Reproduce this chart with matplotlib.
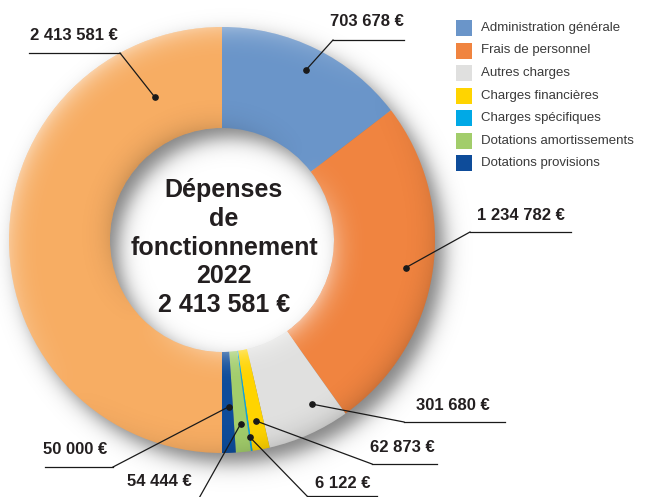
import numpy as np
import matplotlib
matplotlib.use("Agg")
import matplotlib.pyplot as plt

plt.rcParams["font.family"] = ["Liberation Sans", "DejaVu Sans"]

# data
categories = ["Administration générale", "Frais de personnel", "Autres charges",
              "Charges financières", "Charges spécifiques",
              "Dotations amortissements", "Dotations provisions"]
amounts = [703678, 1234782, 301680, 62873, 6122, 54444, 50000]
total = 2413581
year = 2022
title = "Dépenses\nde\nfonctionnement"

colors = ["#6a95c9", "#f08440", "#e0e0df", "#ffd400", "#00a9e6", "#a2cd6b", "#0e4c9a"]
totalColor = "#f7ad63"
textColor = "#231f20"

# label layout in pixels (y from top): text left, text y, underline x0, x1, y,
# elbow side, position of the dot inside its wedge (fraction, radius)
textX = [330, 477, 416, 370, 315, 127, 43, 30]
textY = [22, 215, 405, 447, 483, 482, 450, 35]
lineX0 = [333, 470, 404, 372, 307, 130, 45, 29]
lineX1 = [404, 571, 505, 437, 377, 198, 113, 120]
lineY = [40, 232, 422, 464, 496, 500, 467, 53]
elbowLeft = [True, True, True, True, True, False, False, False]
dotFrac = [0.5, 0.5, 0.7, 0.5, 0.5, 0.5, 0.6, 0.14]
dotRadius = [189, 186, 187, 184, 199, 185, 167, 158]


def euro(v):
    return "{:,}".format(v).replace(",", " ") + " €"


W, H = 646, 497
cx, cy = 222, H - 240
rOut, rIn = 213, 112

fig = plt.figure(figsize=(6.46, 4.97), dpi=100)
ax = fig.add_axes([0, 0, 1, 1])
ax.set_xlim(0, W)
ax.set_ylim(0, H)

# pixel grid for shadow / shading overlays
xs = np.arange(W) + 0.5
ys = np.arange(H) + 0.5
X, Y = np.meshgrid(xs, ys)

# soft drop shadow of the ring, offset to the lower right
sdx, sdy = 9, -10
rs = np.hypot(X - cx - sdx, Y - cy - sdy)
d = np.maximum(rs - rOut, rIn - rs)
shadowA = 0.5 / (1 + np.exp(d / 6.0))
shadow = np.zeros((H, W, 4))
shadow[..., 3] = shadowA
ax.imshow(shadow, extent=(0, W, 0, H), origin="lower", zorder=1, interpolation="bilinear")

wedges, _ = ax.pie(amounts + [total], colors=colors + [totalColor], startangle=90,
                   counterclock=False, radius=rOut, center=(cx, cy), frame=True,
                   wedgeprops=dict(width=rOut - rIn, linewidth=0, zorder=2))

# tube-like shading, light from upper left
r = np.hypot(X - cx, Y - cy)
phi = np.arctan2(Y - cy, X - cx)
u = np.clip((r - (rOut + rIn) / 2) / ((rOut - rIn) / 2), -1, 1)
ue = np.sign(u) * np.abs(u) ** 4
light = ue * (np.cos(phi) * -0.7071 + np.sin(phi) * 0.7071)
mask = np.clip(np.minimum(rOut - r, r - rIn) + 0.5, 0, 1)
shade = np.zeros((H, W, 4))
hi = np.clip(light, 0, 1)
lo = np.clip(-light, 0, 1)
shade[..., :3] = np.where(light[..., None] > 0, 1.0, 0.0)
shade[..., 3] = mask * (0.45 * hi + 0.14 * lo)
ax.imshow(shade, extent=(0, W, 0, H), origin="lower", zorder=3, interpolation="bilinear")

ax.set_xlim(0, W)
ax.set_ylim(0, H)
ax.set_aspect("equal")
ax.axis("off")

# value labels with leader lines
labelValues = amounts + [total]
for i, w in enumerate(wedges):
    ang = np.radians(w.theta1 + dotFrac[i] * (w.theta2 - w.theta1))
    px = cx + dotRadius[i] * np.cos(ang)
    py = cy + dotRadius[i] * np.sin(ang)
    ex = lineX0[i] if elbowLeft[i] else lineX1[i]
    ax.plot([px, ex], [py, H - lineY[i]], color="#1a1a1a", lw=0.9, zorder=5, clip_on=False)
    ax.plot([lineX0[i], lineX1[i]], [H - lineY[i]] * 2, color="#1a1a1a", lw=0.9, zorder=5)
    ax.plot(px, py, "o", color="#1a1a1a", ms=3.8, zorder=6)
    ax.text(textX[i], H - textY[i], euro(labelValues[i]), fontsize=12, fontweight="bold",
            color=textColor, ha="left", va="center", zorder=6)

# centre text
centreLines = title.split("\n") + [str(year), euro(total)]
for k, line in enumerate(centreLines):
    ax.text(224, H - (190 + 28.8 * k), line, fontsize=18, fontweight="bold",
            color=textColor, ha="center", va="center", zorder=6)

# legend
for k, (cat, col) in enumerate(zip(categories, colors)):
    yc = H - (28 + 22.5 * k)
    ax.add_patch(plt.Rectangle((456, yc - 8), 16, 16, color=col, lw=0, zorder=6))
    ax.text(481, yc, cat, fontsize=9.5, color="#3a3a3a", ha="left", va="center", zorder=6)

fig.savefig("out.png", dpi=100)
